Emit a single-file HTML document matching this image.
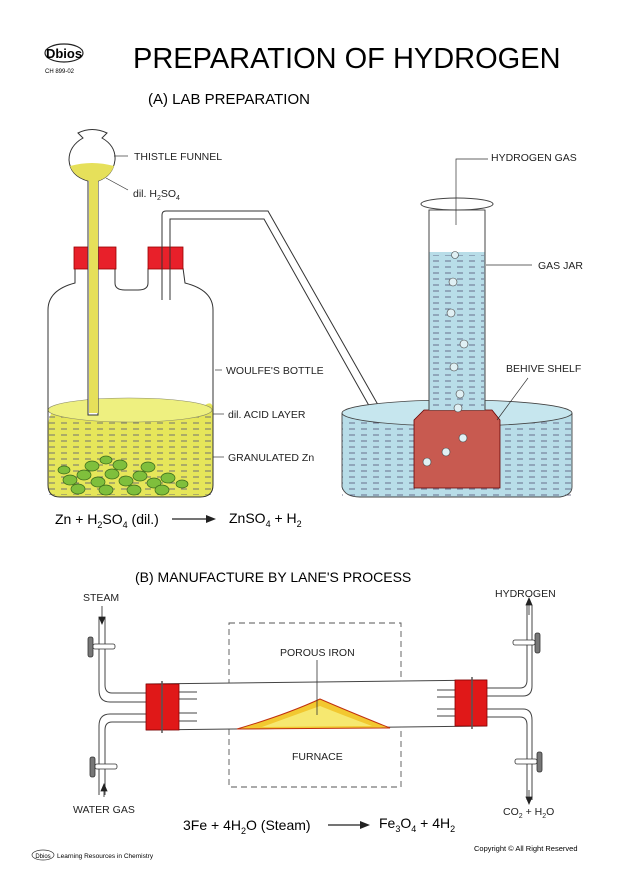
<!DOCTYPE html>
<html><head><meta charset="utf-8"><style>
html,body{margin:0;padding:0;background:#fff;}
svg{display:block;font-family:"Liberation Sans",sans-serif;}
</style></head><body>
<svg width="628" height="893" viewBox="0 0 628 893" xmlns="http://www.w3.org/2000/svg">
<defs>
<pattern id="dash" width="12" height="6" patternUnits="userSpaceOnUse"><line x1="1" y1="3" x2="7" y2="3" stroke="#557" stroke-width="0.8"/></pattern>
</defs>
<!-- header -->
<ellipse cx="64" cy="53" rx="19" ry="9" fill="none" stroke="#222" stroke-width="1.2"/>
<text x="64" y="58" font-size="13" text-anchor="middle" font-weight="bold">Dbios</text>
<text x="45" y="73" font-size="6">CH 899-02</text>
<text x="133" y="68" font-size="29">PREPARATION OF HYDROGEN</text>
<text x="148" y="104" font-size="15">(A) LAB PREPARATION</text>

<!-- Woulfe's bottle -->
<path d="M60 405 Q48 410 48 430 L48 485 Q48 497 60 497 L200 497 Q213 497 213 485 L213 410 Q213 400 205 405 Z" fill="#e6e65a"/>
<rect x="48" y="410" width="165" height="85" fill="url(#dash)"/>
<ellipse cx="130" cy="410" rx="82" ry="12" fill="#eef080" stroke="#886" stroke-width="0.6"/>
<g fill="#7fbf3c" stroke="#3a6a1a" stroke-width="0.7">
<ellipse cx="70" cy="480" rx="7" ry="5"/><ellipse cx="84" cy="475" rx="7" ry="5"/><ellipse cx="98" cy="482" rx="7" ry="5"/><ellipse cx="112" cy="474" rx="7" ry="5"/><ellipse cx="126" cy="481" rx="7" ry="5"/><ellipse cx="140" cy="476" rx="7" ry="5"/><ellipse cx="154" cy="483" rx="7" ry="5"/><ellipse cx="168" cy="478" rx="7" ry="5"/><ellipse cx="182" cy="484" rx="6" ry="4"/>
<ellipse cx="78" cy="489" rx="7" ry="5"/><ellipse cx="92" cy="466" rx="7" ry="5"/><ellipse cx="106" cy="490" rx="7" ry="5"/><ellipse cx="120" cy="465" rx="7" ry="5"/><ellipse cx="134" cy="490" rx="7" ry="5"/><ellipse cx="148" cy="467" rx="7" ry="5"/><ellipse cx="162" cy="490" rx="7" ry="5"/><ellipse cx="64" cy="470" rx="6" ry="4"/><ellipse cx="106" cy="460" rx="6" ry="4"/>
</g>
<path d="M75 268 L75 283 Q48 290 48 310 L48 485 Q48 497 60 497 L200 497 Q213 497 213 485 L213 310 Q213 290 185 283 L183 268 M115 268 L115 283 Q115 290 125 290 L138 290 Q148 290 148 283 L148 268" fill="none" stroke="#333" stroke-width="1"/>
<rect x="74" y="247" width="42" height="22" fill="#e8202a" stroke="#900" stroke-width="0.8"/>
<rect x="148" y="247" width="35" height="22" fill="#e8202a" stroke="#900" stroke-width="0.8"/>
<!-- thistle funnel -->
<path d="M78 133 Q92 126 107 133 L102 138 Q116 146 115 160 Q113 176 98 181 L98 415 L88 415 L88 181 Q70 176 69 160 Q69 146 83 138 Z" fill="#fff" stroke="#333" stroke-width="1"/>
<path d="M70 166 Q92 160 114 166 Q110 177 98 181 L98 413 L89 413 L89 181 Q74 177 70 166 Z" fill="#e6e05a"/>
<!-- delivery tube -->
<path d="M162 300 L162 215 Q162 211 166 211 L268 211 L415 470" fill="none" stroke="#333" stroke-width="1"/>
<path d="M170 300 L170 219 L264 219 L408 475" fill="none" stroke="#333" stroke-width="1"/>

<!-- trough -->
<path d="M342 413 L342 487 Q345 497 360 497 L560 497 Q572 495 572 487 L572 413 Z" fill="#b8dde8"/>
<rect x="342" y="418" width="230" height="78" fill="url(#dash)"/>
<ellipse cx="457" cy="413" rx="115" ry="13" fill="#c6e6ee" stroke="#444" stroke-width="0.8"/>
<path d="M342 413 L342 487 Q345 497 360 497 L560 497 Q572 495 572 487 L572 413" fill="none" stroke="#444" stroke-width="0.9"/>
<!-- shelf -->
<path d="M414 420 L424 410 L492 410 L500 420 L500 488 L414 488 Z" fill="#c85a50" stroke="#600" stroke-width="0.8"/>
<circle cx="463" cy="438" r="4" fill="#e0f0f4" stroke="#444" stroke-width="0.6"/>
<circle cx="446" cy="452" r="4" fill="#e0f0f4" stroke="#444" stroke-width="0.6"/>
<circle cx="427" cy="462" r="4" fill="#e0f0f4" stroke="#444" stroke-width="0.6"/>
<!-- gas jar -->
<rect x="429" y="210" width="56" height="200" fill="#fff" stroke="#444" stroke-width="0.9"/>
<rect x="429.5" y="252" width="55" height="158" fill="#b8dde8"/>
<rect x="430" y="255" width="54" height="154" fill="url(#dash)"/>
<ellipse cx="457" cy="204" rx="36" ry="6" fill="#fff" stroke="#444" stroke-width="1"/>
<line x1="429" y1="210" x2="429" y2="410" stroke="#444"/><line x1="485" y1="210" x2="485" y2="410" stroke="#444"/>
<g fill="#e0f0f4" stroke="#444" stroke-width="0.6">
<circle cx="455" cy="255" r="3.5"/><circle cx="453" cy="282" r="4"/><circle cx="451" cy="313" r="4"/><circle cx="464" cy="344" r="4"/><circle cx="454" cy="367" r="4"/><circle cx="460" cy="394" r="4"/><circle cx="458" cy="408" r="4"/>
</g>
<!-- labels A -->
<g stroke="#333" stroke-width="0.7" fill="none">
<line x1="114" y1="156" x2="128" y2="156"/><line x1="106" y1="178" x2="128" y2="190"/>
<line x1="215" y1="370" x2="222" y2="370"/><line x1="213" y1="414" x2="224" y2="414"/><line x1="213" y1="457" x2="224" y2="457"/>
<path d="M456 225 L456 159 L488 159"/><line x1="486" y1="265" x2="532" y2="265"/><line x1="497" y1="420" x2="528" y2="378"/>
</g>
<g font-size="10.5" fill="#222">
<text x="134" y="160">THISTLE FUNNEL</text>
<text x="133" y="197">dil. H<tspan font-size="7" dy="3">2</tspan><tspan dy="-3">SO</tspan><tspan font-size="7" dy="3">4</tspan></text>
<text x="226" y="374">WOULFE'S BOTTLE</text>
<text x="228" y="418">dil. ACID LAYER</text>
<text x="228" y="461">GRANULATED Zn</text>
<text x="491" y="161">HYDROGEN GAS</text>
<text x="538" y="269">GAS JAR</text>
<text x="506" y="372">BEHIVE SHELF</text>
</g>
<text x="55" y="524" font-size="14">Zn + H<tspan font-size="9" dy="4">2</tspan><tspan dy="-4">SO</tspan><tspan font-size="9" dy="4">4</tspan><tspan dy="-4"> (dil.)</tspan></text>
<line x1="172" y1="519" x2="208" y2="519" stroke="#222" stroke-width="1.2"/><path d="M216 519 L206 515 L206 523 Z" fill="#222"/>
<text x="229" y="523" font-size="14">ZnSO<tspan font-size="9" dy="4">4</tspan><tspan dy="-4"> + H</tspan><tspan font-size="9" dy="4">2</tspan></text>

<!-- Part B -->
<text x="135" y="582" font-size="14">(B)  MANUFACTURE BY LANE'S PROCESS</text>
<rect x="229" y="623" width="172" height="164" fill="none" stroke="#555" stroke-width="0.9" stroke-dasharray="6,4"/>
<path d="M146 684 L487 680 L487 726 L146 730 Z" fill="#fff"/>
<line x1="146" y1="684" x2="487" y2="680" stroke="#444"/><line x1="146" y1="730" x2="487" y2="726" stroke="#444"/>
<path d="M237 729 Q285 715 320 699 Q350 712 390 728 Z" fill="#f2c830" stroke="#c03010" stroke-width="1"/>
<path d="M262 727 Q295 715 320 706 Q345 716 372 726 Z" fill="#f6e870"/>
<line x1="317" y1="660" x2="317" y2="715" stroke="#333" stroke-width="0.8"/>
<!-- pipes -->
<g fill="none" stroke="#444" stroke-width="1">
<path d="M146 693 L112 693 Q105 693 105 685 L105 617"/><path d="M146 702 L110 702 Q99 702 99 690 L99 617"/>
<path d="M146 714 L110 714 Q99 714 99 726 L99 795"/><path d="M146 722 L112 722 Q105 722 105 730 L105 795"/>
<path d="M487 688 L520 688 Q527 688 527 680 L527 605"/><path d="M487 696 L523 696 Q532 696 532 686 L532 605"/>
<path d="M487 709 L523 709 Q532 709 532 720 L532 800"/><path d="M487 717 L520 717 Q527 717 527 725 L527 800"/>
<path d="M179 692 L197 692 M179 699 L197 699 M179 713 L197 713 M179 721 L197 721"/>
<path d="M455 690 L437 690 M455 697 L437 697 M455 709 L437 709 M455 716 L437 716"/>
</g>
<rect x="146" y="684" width="33" height="46" fill="#e01818" stroke="#800" stroke-width="0.8"/>
<rect x="455" y="680" width="32" height="46" fill="#e01818" stroke="#800" stroke-width="0.8"/>
<line x1="162" y1="681" x2="162" y2="733" stroke="#555" stroke-width="1.5"/><line x1="472" y1="677" x2="472" y2="729" stroke="#555" stroke-width="1.5"/>
<!-- valves -->
<g fill="#777" stroke="#333" stroke-width="0.8">
<rect x="88" y="637" width="5" height="20" rx="2"/><rect x="93" y="644" width="22" height="5" rx="2" fill="#fff"/>
<rect x="90" y="757" width="5" height="20" rx="2"/><rect x="95" y="764" width="22" height="5" rx="2" fill="#fff"/>
<rect x="535" y="633" width="5" height="20" rx="2"/><rect x="513" y="640" width="22" height="5" rx="2" fill="#fff"/>
<rect x="537" y="752" width="5" height="20" rx="2"/><rect x="515" y="759" width="22" height="5" rx="2" fill="#fff"/>
</g>
<g stroke="#222" stroke-width="0.8" fill="#222">
<line x1="102" y1="606" x2="102" y2="620"/><path d="M102 624 L99 617 L105 617 Z"/>
<line x1="104" y1="788" x2="104" y2="797"/><path d="M104 784 L101 791 L107 791 Z"/>
<line x1="529" y1="603" x2="529" y2="615"/><path d="M529 598 L526 605 L532 605 Z"/>
<line x1="529" y1="790" x2="529" y2="800"/><path d="M529 804 L526 797 L532 797 Z"/>
</g>
<g font-size="10.5" fill="#222">
<text x="83" y="601">STEAM</text>
<text x="495" y="597">HYDROGEN</text>
<text x="280" y="656">POROUS IRON</text>
<text x="292" y="760">FURNACE</text>
<text x="73" y="813">WATER GAS</text>
<text x="503" y="815">CO<tspan font-size="7" dy="3">2</tspan><tspan dy="-3"> + H</tspan><tspan font-size="7" dy="3">2</tspan><tspan dy="-3">O</tspan></text>
</g>
<text x="183" y="830" font-size="14">3Fe + 4H<tspan font-size="9" dy="4">2</tspan><tspan dy="-4">O (Steam)</tspan></text>
<line x1="328" y1="825" x2="362" y2="825" stroke="#222" stroke-width="1.2"/><path d="M370 825 L360 821 L360 829 Z" fill="#222"/>
<text x="379" y="828" font-size="14">Fe<tspan font-size="9" dy="4">3</tspan><tspan dy="-4">O</tspan><tspan font-size="9" dy="4">4</tspan><tspan dy="-4"> + 4H</tspan><tspan font-size="9" dy="4">2</tspan></text>
<ellipse cx="43" cy="855" rx="11" ry="5" fill="none" stroke="#333" stroke-width="0.7"/>
<text x="43" y="858" font-size="6" text-anchor="middle">Dbios</text>
<text x="57" y="858" font-size="6.5">Learning Resources in Chemistry</text>
<text x="474" y="851" font-size="7.5">Copyright © All Right Reserved</text>
</svg>
</body></html>
